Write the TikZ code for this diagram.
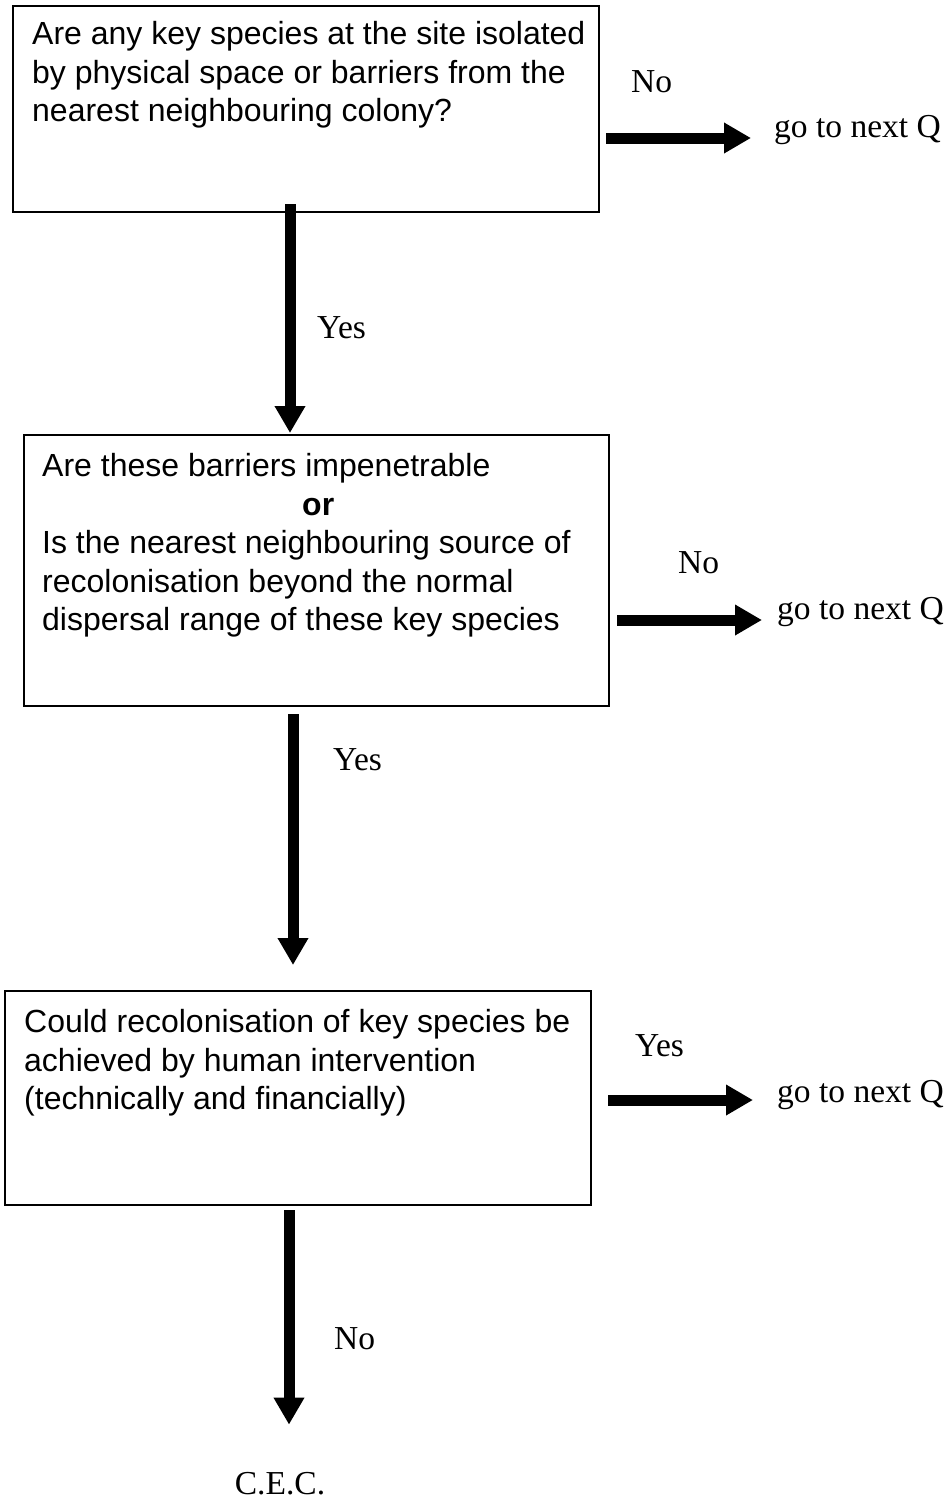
\documentclass[tikz,border=0pt]{standalone}
\usepackage{fontspec}
\setmainfont{Liberation Serif}
\newfontfamily\boxfont{Liberation Sans}
\usetikzlibrary{arrows.meta,calc}
\begin{document}
\begin{tikzpicture}[x=1pt,y=-1pt,
  qbox/.style={draw, line width=1.4pt, rectangle, inner sep=0pt, outer sep=0pt},
  qtext/.style={inner sep=0pt, anchor=north west, align=left,
    font=\boxfont\fontsize{32}{38.5}\selectfont},
  lbl/.style={inner sep=0pt, anchor=base west, font=\fontsize{33.5}{38}\selectfont},
  flow/.style={line width=11pt, -{Triangle[width=29pt,length=27pt]}},
]
\useasboundingbox (0,0) rectangle (951,1502);

% question boxes
\node[qbox, minimum width=586pt, minimum height=206pt] (b1) at (306,109) {};
\node[qbox, minimum width=585pt, minimum height=271pt] (b2) at (316.5,570.5) {};
\node[qbox, minimum width=586pt, minimum height=214pt] (b3) at (298,1098) {};

% question texts
\node[qtext] (t1) at ($(b1.north west)+(19,15.5)$)
  {Are any key species at the site isolated\\
   by physical space or barriers from the\\
   nearest neighbouring colony?};
\node[qtext] (t2) at ($(b2.north west)+(18,18.5)$)
  {Are these barriers impenetrable\\
   \makebox[552pt]{\bfseries or}\\
   Is the nearest neighbouring source of\\
   recolonisation beyond the normal\\
   dispersal range of these key species};
\node[qtext] (t3) at ($(b3.north west)+(19,18.5)$)
  {Could recolonisation of key species be\\
   achieved by human intervention\\
   (technically and financially)};

% outcome labels
\node[lbl] (g1) at (774,137) {go to next Q};
\node[lbl] (g2) at (777,619) {go to next Q};
\node[lbl] (g3) at (777,1102) {go to next Q};
\node[lbl, anchor=base] (cec) at (280,1494) {C.E.C.};

% answer labels
\node[lbl] (no1) at (631,92) {No};
\node[lbl] (yes1) at (317,338) {Yes};
\node[lbl] (no2) at (678,573) {No};
\node[lbl] (yes2) at (333,770) {Yes};
\node[lbl] (yes3) at (635,1056) {Yes};
\node[lbl] (no3) at (334,1349) {No};

% vertical flow
\draw[flow] ($(b1.south)+(-16,-8)$) -- ($(b2.north)+(-26.5,-2)$);
\draw[flow] ($(b2.south)+(-23.5,8)$) -- ($(b3.north)+(-5,-26)$);
\draw[flow] ($(b3.south)+(-9,5)$) -- ($(cec.north)+(9,-47)$);

% side exits
\draw[flow] ($(b1.east |- g1.base west)+(7,1)$) -- ($(g1.base west)+(-23,1)$);
\draw[flow] ($(b2.east |- g2.base west)+(8,1)$) -- ($(g2.base west)+(-15,1)$);
\draw[flow] ($(b3.east |- g3.base west)+(17,-2)$) -- ($(g3.base west)+(-24,-2)$);
\end{tikzpicture}
\end{document}
